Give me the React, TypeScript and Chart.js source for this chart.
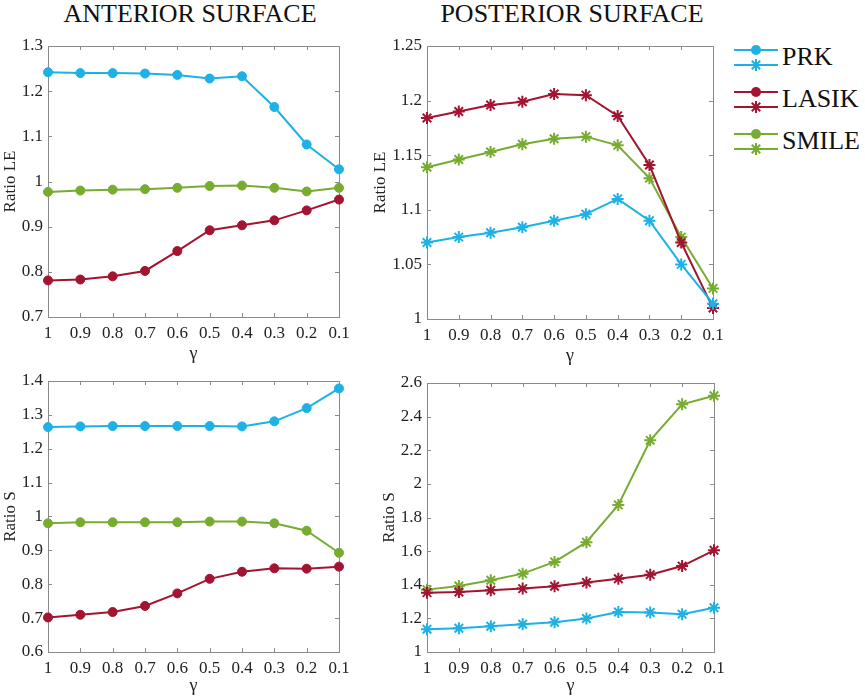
import { useEffect, useRef } from 'react'
import { Chart, registerables } from 'chart.js'

Chart.register(...registerables)

// gamma runs from 1 down to 0.1
const gammaLabels = ['1', '0.9', '0.8', '0.7', '0.6', '0.5', '0.4', '0.3', '0.2', '0.1']

// anterior surface, ratio LE
const antLE_PRK = [1.242, 1.240, 1.240, 1.239, 1.236, 1.228, 1.233, 1.165, 1.082, 1.027]
const antLE_LASIK = [0.781, 0.783, 0.790, 0.802, 0.846, 0.892, 0.903, 0.914, 0.936, 0.960]
const antLE_SMILE = [0.977, 0.980, 0.982, 0.983, 0.986, 0.990, 0.991, 0.986, 0.978, 0.986]

// posterior surface, ratio LE
const postLE_PRK = [1.070, 1.075, 1.079, 1.084, 1.090, 1.096, 1.110, 1.090, 1.050, 1.014]
const postLE_LASIK = [1.184, 1.190, 1.196, 1.199, 1.206, 1.205, 1.186, 1.141, 1.070, 1.010]
const postLE_SMILE = [1.139, 1.146, 1.153, 1.160, 1.165, 1.167, 1.159, 1.129, 1.075, 1.028]

// anterior surface, ratio S
const antS_PRK = [1.264, 1.266, 1.267, 1.267, 1.267, 1.267, 1.266, 1.281, 1.320, 1.378]
const antS_LASIK = [0.702, 0.710, 0.718, 0.736, 0.773, 0.816, 0.837, 0.847, 0.846, 0.852]
const antS_SMILE = [0.980, 0.983, 0.983, 0.983, 0.983, 0.985, 0.985, 0.980, 0.958, 0.893]

// posterior surface, ratio S
const postS_PRK = [1.135, 1.141, 1.153, 1.165, 1.177, 1.199, 1.238, 1.235, 1.225, 1.263]
const postS_LASIK = [1.353, 1.357, 1.367, 1.377, 1.391, 1.413, 1.436, 1.460, 1.511, 1.605]
const postS_SMILE = [1.371, 1.393, 1.427, 1.466, 1.536, 1.653, 1.875, 2.259, 2.473, 2.524]

// y tick values
const antLETicks = [0.7, 0.8, 0.9, 1, 1.1, 1.2, 1.3]
const postLETicks = [1, 1.05, 1.1, 1.15, 1.2, 1.25]
const antSTicks = [0.6, 0.7, 0.8, 0.9, 1, 1.1, 1.2, 1.3, 1.4]
const postSTicks = [1, 1.2, 1.4, 1.6, 1.8, 2, 2.2, 2.4, 2.6]

const COLORS = { PRK: '#1db1e6', LASIK: '#a2142f', SMILE: '#77ac30' }
const SERIF = "'Liberation Serif', 'Times New Roman', serif"
const TEXT = '#222'
const AXIS = '#8a8a8a'

// MATLAB style box with inward ticks on all four sides
const boxPlugin = {
  id: 'matlabBox',
  beforeDatasetsDraw(chart: any) {
    const { ctx, chartArea: a, scales } = chart
    const t = 4
    ctx.save()
    ctx.strokeStyle = AXIS
    ctx.lineWidth = 1
    ctx.beginPath()
    scales.x.ticks.forEach((_: any, i: number) => {
      const x = Math.round(scales.x.getPixelForTick(i)) + 0.5
      ctx.moveTo(x, a.bottom)
      ctx.lineTo(x, a.bottom - t)
      ctx.moveTo(x, a.top)
      ctx.lineTo(x, a.top + t)
    })
    scales.y.ticks.forEach((_: any, i: number) => {
      const y = Math.round(scales.y.getPixelForTick(i)) + 0.5
      ctx.moveTo(a.left, y)
      ctx.lineTo(a.left + t, y)
      ctx.moveTo(a.right, y)
      ctx.lineTo(a.right - t, y)
    })
    ctx.stroke()
    ctx.strokeRect(Math.round(a.left) + 0.5, Math.round(a.top) + 0.5,
      Math.round(a.right - a.left), Math.round(a.bottom - a.top))
    ctx.restore()
  },
}

type Series = { name: keyof typeof COLORS; data: number[] }

type PanelProps = {
  left: number
  top: number
  width: number
  height: number
  yAxisWidth: number
  xAxisHeight: number
  yLabel: string
  yTicks: number[]
  marker: 'circle' | 'star'
  series: Series[]
}

function Panel(p: PanelProps) {
  const ref = useRef<HTMLCanvasElement>(null)

  useEffect(() => {
    if (!ref.current) return
    const star = p.marker === 'star'
    const chart = new Chart(ref.current, {
      type: 'line',
      data: {
        labels: gammaLabels,
        datasets: p.series.map((s) => ({
          label: s.name,
          data: s.data,
          borderColor: COLORS[s.name],
          backgroundColor: COLORS[s.name],
          borderWidth: 2,
          pointStyle: p.marker,
          pointRadius: star ? 6 : 4.5,
          pointBorderWidth: star ? 2 : 1,
          pointBackgroundColor: COLORS[s.name],
          pointBorderColor: COLORS[s.name],
          tension: 0,
          clip: false as any,
        })),
      },
      options: {
        responsive: false,
        animation: false,
        layout: { padding: { top: 10, right: 14, left: 0, bottom: 0 } },
        plugins: { legend: { display: false }, tooltip: { enabled: false } },
        scales: {
          x: {
            type: 'category',
            offset: false,
            grid: { display: false, drawTicks: false },
            border: { display: false },
            ticks: { color: TEXT, font: { family: SERIF, size: 17 }, padding: 6, maxRotation: 0, autoSkip: false },
            title: { display: true, text: 'γ', color: TEXT, font: { family: SERIF, size: 18 }, padding: 0 },
            afterFit: (s: any) => {
              s.height = p.xAxisHeight
              s.paddingLeft = 0
              s.paddingRight = 0
            },
          },
          y: {
            min: p.yTicks[0],
            max: p.yTicks[p.yTicks.length - 1],
            grid: { display: false, drawTicks: false },
            border: { display: false },
            afterBuildTicks: (s: any) => {
              s.ticks = p.yTicks.map((v) => ({ value: v }))
            },
            ticks: {
              color: TEXT,
              font: { family: SERIF, size: 17 },
              padding: 5,
              callback: (v: any) => String(Number(Number(v).toFixed(2))),
            },
            title: { display: true, text: p.yLabel, color: TEXT, font: { family: SERIF, size: 17 }, padding: 0 },
            afterFit: (s: any) => {
              s.width = p.yAxisWidth
              s.paddingTop = 0
              s.paddingBottom = 0
            },
          },
        },
      },
      plugins: [boxPlugin],
    })
    return () => chart.destroy()
  }, [])

  return (
    <canvas
      ref={ref}
      width={p.width}
      height={p.height}
      style={{ position: 'absolute', left: p.left, top: p.top, width: p.width, height: p.height }}
    />
  )
}

function LegendMarker({ color, kind }: { color: string; kind: 'circle' | 'star' }) {
  return (
    <svg width={44} height={14} style={{ display: 'block' }}>
      <line x1={0} y1={7} x2={44} y2={7} stroke={color} strokeWidth={2} />
      {kind === 'circle' ? (
        <circle cx={22} cy={7} r={5} fill={color} />
      ) : (
        <g stroke={color} strokeWidth={2}>
          <line x1={22} y1={1} x2={22} y2={13} />
          <line x1={16} y1={7} x2={28} y2={7} />
          <line x1={17.8} y1={2.8} x2={26.2} y2={11.2} />
          <line x1={26.2} y1={2.8} x2={17.8} y2={11.2} />
        </g>
      )}
    </svg>
  )
}

function Legend() {
  const items: (keyof typeof COLORS)[] = ['PRK', 'LASIK', 'SMILE']
  return (
    <div style={{ position: 'absolute', left: 734, top: 36 }}>
      {items.map((name) => (
        <div key={name} style={{ display: 'flex', alignItems: 'center', height: 42 }}>
          <div style={{ display: 'flex', flexDirection: 'column', gap: 1 }}>
            <LegendMarker color={COLORS[name]} kind="circle" />
            <LegendMarker color={COLORS[name]} kind="star" />
          </div>
          <span style={{ fontFamily: SERIF, fontSize: 26, color: '#111', marginLeft: 4, lineHeight: 1 }}>{name}</span>
        </div>
      ))}
    </div>
  )
}

const titleStyle = {
  position: 'absolute' as const,
  top: 0,
  width: 340,
  textAlign: 'center' as const,
  fontFamily: SERIF,
  fontSize: 26,
  color: '#111',
  lineHeight: '28px',
}

export default function App() {
  return (
    <div style={{ position: 'absolute', left: 0, top: 0, width: 865, height: 699, background: '#fff', overflow: 'hidden' }}>
      <div style={{ ...titleStyle, left: 20 }}>ANTERIOR SURFACE</div>
      <div style={{ ...titleStyle, left: 402 }}>POSTERIOR SURFACE</div>
      <Panel
        left={0} top={36} width={353} height={329} yAxisWidth={48} xAxisHeight={48}
        yLabel="Ratio LE" yTicks={antLETicks} marker="circle"
        series={[
          { name: 'PRK', data: antLE_PRK },
          { name: 'LASIK', data: antLE_LASIK },
          { name: 'SMILE', data: antLE_SMILE },
        ]}
      />
      <Panel
        left={370} top={36} width={357} height={331} yAxisWidth={57} xAxisHeight={48}
        yLabel="Ratio LE" yTicks={postLETicks} marker="star"
        series={[
          { name: 'PRK', data: postLE_PRK },
          { name: 'LASIK', data: postLE_LASIK },
          { name: 'SMILE', data: postLE_SMILE },
        ]}
      />
      <Panel
        left={0} top={371} width={353} height={326} yAxisWidth={48} xAxisHeight={45}
        yLabel="Ratio S" yTicks={antSTicks} marker="circle"
        series={[
          { name: 'PRK', data: antS_PRK },
          { name: 'LASIK', data: antS_LASIK },
          { name: 'SMILE', data: antS_SMILE },
        ]}
      />
      <Panel
        left={379} top={373} width={349} height={324} yAxisWidth={48} xAxisHeight={45}
        yLabel="Ratio S" yTicks={postSTicks} marker="star"
        series={[
          { name: 'PRK', data: postS_PRK },
          { name: 'LASIK', data: postS_LASIK },
          { name: 'SMILE', data: postS_SMILE },
        ]}
      />
      <Legend />
    </div>
  )
}
